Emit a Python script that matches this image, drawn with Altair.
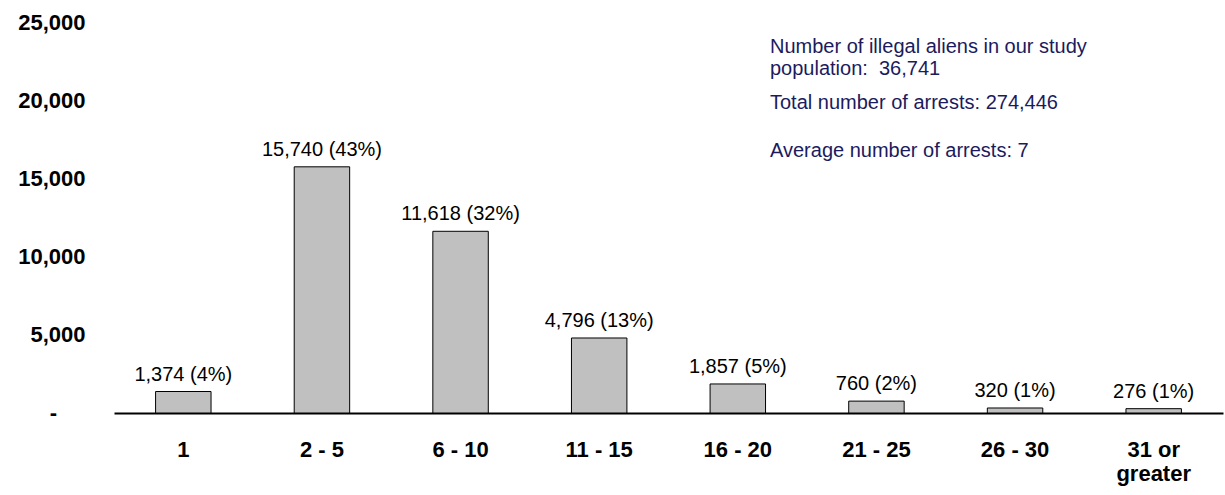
import altair as alt
import pandas as pd

categories = ["1", "2 - 5", "6 - 10", "11 - 15", "16 - 20", "21 - 25", "26 - 30", "31 or greater"]
counts = [1374, 15740, 11618, 4796, 1857, 760, 320, 276]
percents = ["4%", "43%", "32%", "13%", "5%", "2%", "1%", "1%"]
y_ticks = [0, 5000, 10000, 15000, 20000, 25000]
notes = [
    "Number of illegal aliens in our study",
    "population:\u00a0 36,741",
    "Total number of arrests: 274,446",
    "Average number of arrests: 7",
]

df = pd.DataFrame({
    "cat": categories,
    "count": counts,
    "label": [f"{c:,} ({p})" for c, p in zip(counts, percents)],
})

FONT = "Liberation Sans"
NAVY = "#1b1b5e"

x = alt.X("cat:N", sort=categories, title=None,
          scale=alt.Scale(paddingInner=0.6, paddingOuter=0.3),
          axis=alt.Axis(labelAngle=0, labelFont=FONT, labelFontSize=22, labelFontWeight="bold",
                        labelColor="black", labelPadding=26, labelBaseline="top",
                        labelLineHeight=24, ticks=False, domainColor="black", domainWidth=2,
                        labelExpr="datum.label == '31 or greater' ? ['31 or', 'greater'] : datum.label"))
y = alt.Y("count:Q", title=None,
          scale=alt.Scale(domain=[0, 25000], nice=False),
          axis=alt.Axis(values=y_ticks, grid=False, domain=False, ticks=False,
                        labelFont=FONT, labelFontSize=22, labelFontWeight="bold",
                        labelColor="black", labelPadding=29,
                        labelExpr="datum.value == 0 ? '' : format(datum.value, ',')"))

base = alt.Chart(df)
bars = base.mark_bar(color="#c0c0c0", stroke="black", strokeWidth=1).encode(x=x, y=y)
texts = base.mark_text(baseline="bottom", dy=-7, font=FONT, fontSize=20, color="black").encode(
    x=alt.X("cat:N", sort=categories), y="count:Q", text="label:N")

zero_label = alt.Chart(pd.DataFrame({"v": [0], "t": ["-"]})).mark_text(
    align="right", baseline="middle", font=FONT, fontSize=22, fontWeight="bold", color="black"
).encode(x=alt.value(-57), y=alt.Y("v:Q"), text="t:N")

note_y = [25, 47, 81, 129]
note_layers = [
    alt.Chart(pd.DataFrame({"t": [t]})).mark_text(
        align="left", baseline="middle", font=FONT, fontSize=20, color=NAVY
    ).encode(x=alt.value(656), y=alt.value(yy), text="t:N")
    for t, yy in zip(notes, note_y)
]

chart = alt.layer(bars, texts, zero_label, *note_layers).properties(
    width=1109, height=391,
    background="white",
    autosize=alt.AutoSizeParams(type="none"),
    padding={"left": 114, "top": 22, "right": 2, "bottom": 82},
).configure_view(stroke="transparent", strokeWidth=0)

chart.save("out.html", embed_options={"renderer": "svg", "actions": False})
